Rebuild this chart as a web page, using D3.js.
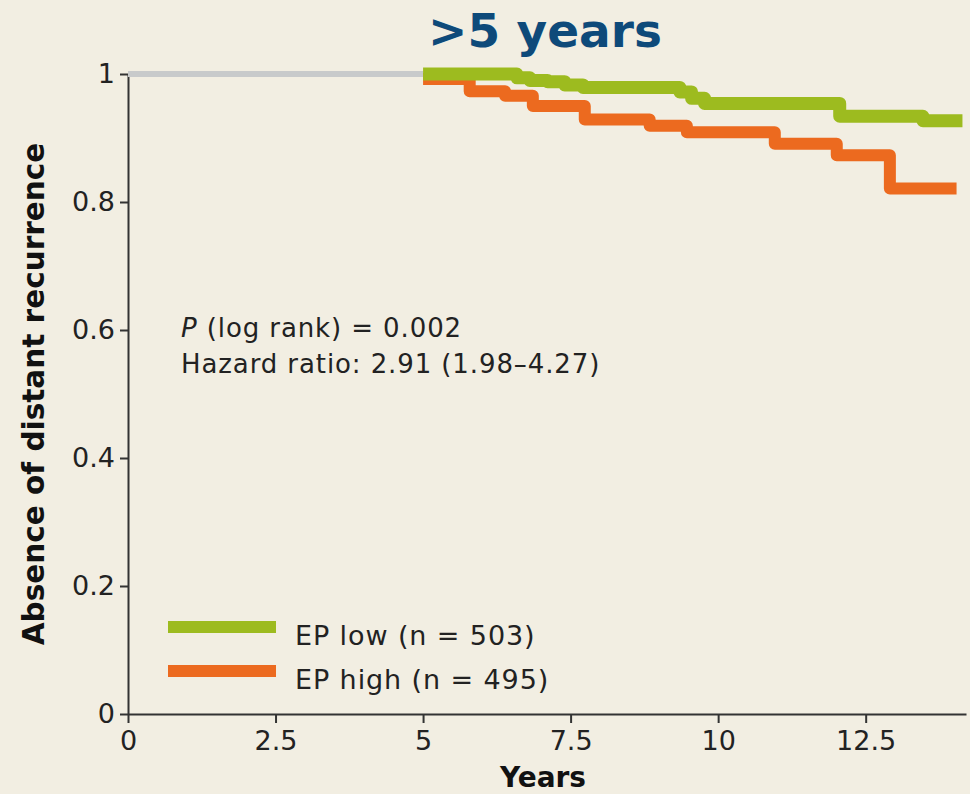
<!DOCTYPE html>
<html>
<head>
<meta charset="utf-8">
<script src="https://cdn.jsdelivr.net/npm/d3@7"></script>
<style>
  html, body { margin: 0; padding: 0; background: #f2eee2; }
  svg { display: block; }
</style>
</head>
<body>
<div id="chart"></div>
<script>
// values
const xTicks = [0, 2.5, 5, 7.5, 10, 12.5];
const yTicks = [0, 0.2, 0.4, 0.6, 0.8, 1];

const baseTimes = [0, 5];
const baseSurv = [1, 1];

const lowTimes = [5.0, 6.59, 6.81, 7.11, 7.40, 7.71, 9.35, 9.55, 9.77, 12.06, 13.47, 14.14];
const lowSurv = [1.0, 0.994, 0.990, 0.988, 0.983, 0.979, 0.972, 0.962, 0.954, 0.934, 0.927, 0.927];

const highTimes = [5.0, 5.79, 6.39, 6.86, 7.74, 8.84, 9.47, 10.96, 12.01, 12.91, 14.04];
const highSurv = [0.992, 0.973, 0.966, 0.950, 0.929, 0.919, 0.909, 0.891, 0.873, 0.821, 0.821];

const seriesNames = ['EP low (n = 503)', 'EP high (n = 495)'];
const seriesColors = ['#9dbb1f', '#ec6a1f'];

function main() {
    const svgWidth = 970;
    const svgHeight = 794;
    const font = "'DejaVu Sans', Verdana, sans-serif";

    const svg = d3.select('#chart').append('svg')
        .attr('width', svgWidth)
        .attr('height', svgHeight);

    const xScale = d3.scaleLinear().domain([0, 14.2]).range([128, 966]);
    const yScale = d3.scaleLinear().domain([0, 1]).range([714, 74]);

    // title
    svg.append('text')
        .attr('x', 545)
        .attr('y', 47)
        .attr('text-anchor', 'middle')
        .attr('fill', '#0e4a7a')
        .style('font-family', font)
        .style('font-weight', 'bold')
        .style('font-size', '47px')
        .text('>5 years');

    // axes
    const xAxis = svg.append('g')
        .attr('transform', `translate(0,${yScale(0)})`)
        .call(d3.axisBottom(xScale).tickValues(xTicks).tickSize(9).tickSizeOuter(0).tickPadding(8)
            .tickFormat(d3.format('')));

    const yAxis = svg.append('g')
        .attr('transform', `translate(${xScale(0)},0)`)
        .call(d3.axisLeft(yScale).tickValues(yTicks).tickSize(8).tickSizeOuter(0).tickPadding(5)
            .tickFormat(d3.format('')));

    [xAxis, yAxis].forEach(ax => {
        ax.selectAll('.domain').style('stroke', '#333').style('stroke-width', 2);
        ax.selectAll('.tick line').style('stroke', '#333').style('stroke-width', 2);
        ax.selectAll('text')
            .style('font-family', font)
            .style('font-size', '27px')
            .style('fill', '#222');
    });

    svg.append('text')
        .attr('x', 543)
        .attr('y', 787)
        .attr('text-anchor', 'middle')
        .attr('fill', '#111')
        .style('font-family', font)
        .style('font-weight', 'bold')
        .style('font-size', '28px')
        .text('Years');

    svg.append('text')
        .attr('transform', 'translate(44,394) rotate(-90)')
        .attr('text-anchor', 'middle')
        .attr('fill', '#111')
        .style('font-family', font)
        .style('font-weight', 'bold')
        .style('font-size', '29.5px')
        .text('Absence of distant recurrence');

    // curves
    const lineGen = d3.line()
        .x(d => xScale(d.t))
        .y(d => yScale(d.s))
        .curve(d3.curveStepAfter);

    const toPoints = (times, surv) => times.map((t, i) => ({t: t, s: surv[i]}));

    svg.append('path')
        .datum(toPoints(baseTimes, baseSurv))
        .attr('d', lineGen)
        .attr('fill', 'none')
        .attr('stroke', '#c8cacb')
        .attr('stroke-width', 6);

    svg.append('path')
        .datum(toPoints(highTimes, highSurv))
        .attr('d', lineGen)
        .attr('fill', 'none')
        .attr('stroke', seriesColors[1])
        .attr('stroke-width', 12)
        .attr('stroke-linejoin', 'round');

    svg.append('path')
        .datum(toPoints(lowTimes, lowSurv))
        .attr('d', lineGen)
        .attr('fill', 'none')
        .attr('stroke', seriesColors[0])
        .attr('stroke-width', 13)
        .attr('stroke-linejoin', 'round');

    // statistics text
    const stats = svg.append('text')
        .attr('x', 181)
        .attr('y', 337)
        .attr('fill', '#222')
        .style('font-family', font)
        .style('font-size', '26px')
        .style('letter-spacing', '0.9px');
    stats.append('tspan').style('font-style', 'italic').text('P');
    stats.append('tspan').text(' (log rank) = 0.002');

    svg.append('text')
        .attr('x', 181)
        .attr('y', 373)
        .attr('fill', '#222')
        .style('font-family', font)
        .style('font-size', '26px')
        .style('letter-spacing', '0.9px')
        .text('Hazard ratio: 2.91 (1.98\u20134.27)');

    // legend
    const legend = svg.append('g');
    seriesNames.forEach((name, i) => {
        const cy = 627 + i * 44;
        legend.append('line')
            .attr('x1', 168).attr('x2', 276)
            .attr('y1', cy).attr('y2', cy)
            .attr('stroke', seriesColors[i])
            .attr('stroke-width', 12);
        legend.append('text')
            .attr('x', 295)
            .attr('y', cy + 18)
            .attr('fill', '#222')
            .style('font-family', font)
            .style('font-size', '27px')
            .style('letter-spacing', '0.9px')
            .text(name);
    });
}

main();
</script>
</body>
</html>
